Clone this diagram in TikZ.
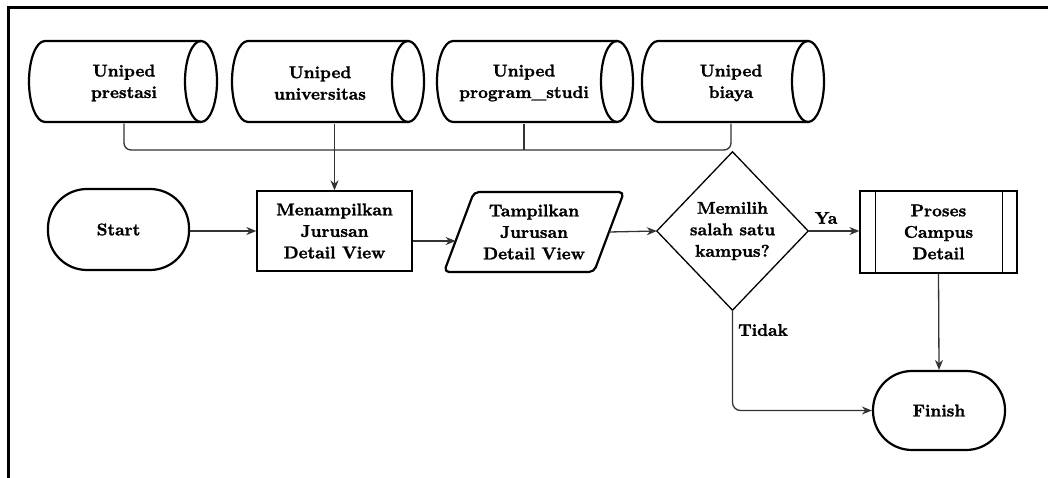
\documentclass[tikz,border=0pt]{standalone}
\usepackage{fontspec}
\newfontfamily\diagfont{lmroman10-bold.otf}[FakeBold=1.5]
\usetikzlibrary{arrows.meta}
\definecolor{linegray}{HTML}{333333}
\begin{document}
\begin{tikzpicture}[x=1pt,y=-1pt,
  every node/.style={font=\diagfont\fontsize{17}{21.5}\selectfont, align=center, inner sep=0pt},
  heavy/.style={line width=2.2pt, line join=round},
  boxline/.style={line width=1.3pt},
  conn/.style={line width=1.3pt, draw=linegray},
  arrow/.style={conn, -{Stealth[length=10pt,width=8pt]}},
  terminal/.style={draw, heavy, rounded corners=39pt},
  box/.style={draw, boxline}
]
% canvas and frame
\useasboundingbox (0,0) rectangle (1048,478);
\draw[line width=3pt] (8.5,478) -- (8.5,7.5) -- (1048,7.5);

% horizontal data cylinders: left x, right x, top y, bottom y
\newcommand{\datacyl}[4]{%
  \draw[heavy] (#2-16,#3) -- (#1+16,#3)
     arc[start angle=90, end angle=270, x radius=16pt, y radius={(#4-#3)/2*1pt}]
     -- (#2-16,#4);
  \draw[heavy] (#2-16,{(#3+#4)/2}) ellipse [x radius=16pt, y radius={(#4-#3)/2*1pt}];}
\datacyl{29}{217}{41}{122}
\datacyl{232}{424}{41}{122}
\datacyl{437}{633}{41}{122}
\datacyl{642}{824}{41}{122}
\node[minimum height=81] (c1) at (124,83) {Uniped\\prestasi};
\node[minimum height=81] (c2) at (320,83) {Uniped\\universitas};
\node[minimum height=81] (c3) at (524,83) {Uniped\\program\_studi};
\node[minimum height=81] (c4) at (731,83) {Uniped\\biaya};

% flow shapes
\node[terminal, minimum width=141, minimum height=81] (s) at (118.5,229.5) {Start};
\node[box, minimum width=155, minimum height=80] (m) at (334.5,231) {Menampilkan\\Jurusan\\Detail View};
\node[minimum width=150, minimum height=80] (t) at (534,232) {Tampilkan\\Jurusan\\Detail View};
\draw[heavy, rounded corners=5pt] (474,192) -- (624,192) -- (594,272) -- (444,272) -- cycle;
\node[minimum width=151, minimum height=158] (d) at (732.5,231) {Memilih\\salah satu\\kampus?};
\draw[boxline] (d.north) -- (d.east) -- (d.south) -- (d.west) -- cycle;
\node[box, minimum width=157, minimum height=82] (p) at (938.5,232) {Proses\\Campus\\Detail};
\draw[boxline] ([xshift=16pt]p.north west) -- ([xshift=16pt]p.south west);
\draw[boxline] ([xshift=-15pt]p.north east) -- ([xshift=-15pt]p.south east);
\node[terminal, minimum width=132, minimum height=79] (f) at (939,410.5) {Finish};

% connectors
\coordinate (bus) at (0,150);
\draw[conn, rounded corners=7pt] (c1.south) |- (c4.south |- bus) -- (c4.south);
\draw[conn] (c3.south) -- (c3.south |- bus);
\draw[arrow] (m.north |- c2.south) -- (m.north);
\draw[arrow] (s.east |- m.west) -- (m.west);
\coordinate (tin) at (455.6,241);
\draw[arrow] (m.east |- tin) -- (tin);
\draw[arrow] (t.east) -- (d.west);
\draw[arrow] (d.east) -- (p.west |- d.east);
\draw[arrow] (p.south) -- (f.north);
\draw[arrow, rounded corners=8pt] (d.south) |- (f.west);

% branch labels
\node (ya) at (826,218) {Ya};
\node (tidak) at (763,330) {Tidak};
\end{tikzpicture}
\end{document}
